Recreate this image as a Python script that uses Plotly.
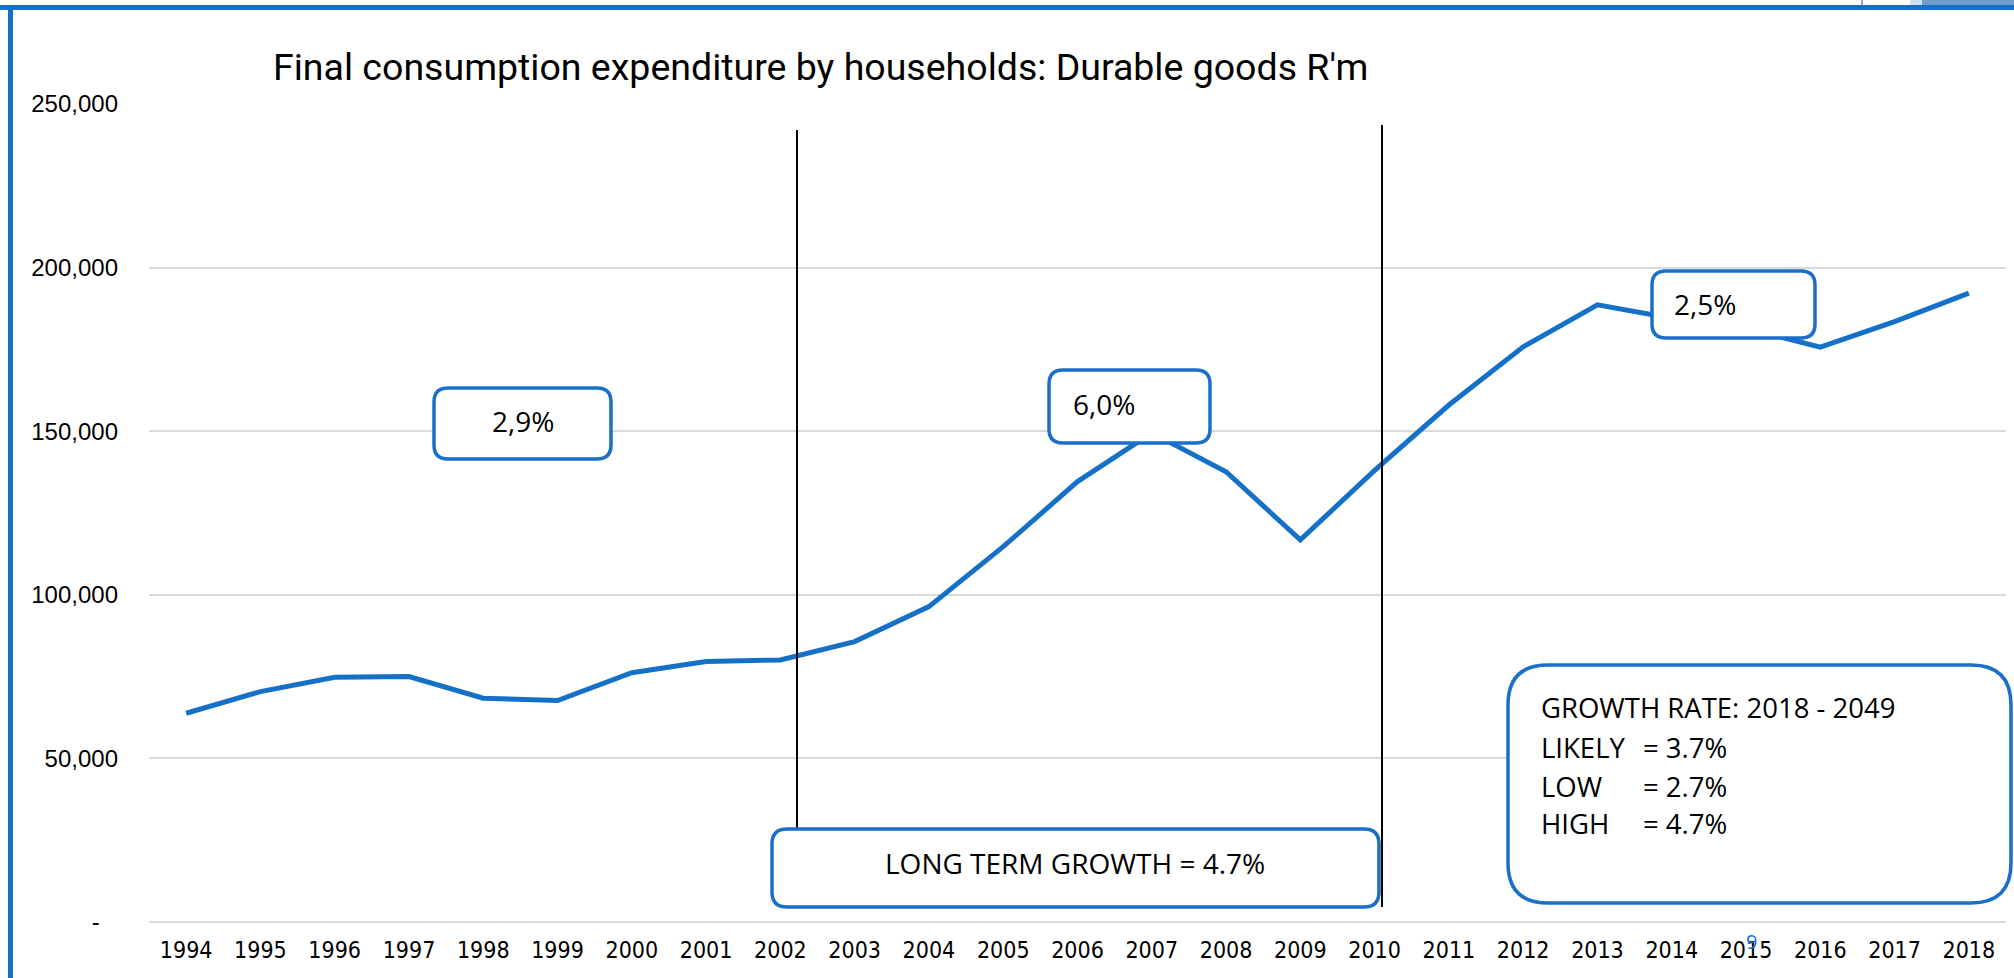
import plotly.graph_objects as go

# ---- data ----
years = [str(y) for y in range(1994, 2019)]
durable_goods_rm = [63800, 70400, 74800, 75000, 68400, 67700, 76200, 79600, 80100,
                    85700, 96400, 114700, 134600, 149500, 137600, 116800, 138000,
                    158000, 175800, 188600, 184500, 181500, 175700, 183500, 192200]
y_tick_vals = [0, 50000, 100000, 150000, 200000, 250000]
y_tick_text = ["-\u00a0\u00a0\u2009", "50,000", "100,000", "150,000", "200,000", "250,000"]

title_text = "Final consumption expenditure by households: Durable goods R'm"
period_labels = ["2,9%", "6,0%", "2,5%"]
long_term_text = "LONG TERM GROWTH = 4.7%"
growth_head = "GROWTH RATE: 2018 - 2049"
scenario_names = ["LIKELY", "LOW", "HIGH"]
scenario_rates = ["= 3.7%", "= 2.7%", "= 4.7%"]

# ---- layout geometry (pixels) ----
W, H = 2014, 978
L, R, T, B = 149, 2006, 104, 922
PW, PH = R - L, B - T

def px(x):
    return (x - L) / PW

def py(y):
    return (B - y) / PH

def rrect(x0, y0, x1, y1, r):
    rx, ry = r / PW, r / PH
    X0, X1 = px(x0), px(x1)
    Y0, Y1 = py(y0), py(y1)  # Y0 top (larger), Y1 bottom
    return (f"M {X0+rx},{Y0} L {X1-rx},{Y0} Q {X1},{Y0} {X1},{Y0-ry} "
            f"L {X1},{Y1+ry} Q {X1},{Y1} {X1-rx},{Y1} L {X0+rx},{Y1} "
            f"Q {X0},{Y1} {X0},{Y1+ry} L {X0},{Y0-ry} Q {X0},{Y0} {X0+rx},{Y0} Z")

BLUE = "#1570c8"
BOXBLUE = "#1a6fc9"
callout_font = dict(family="Open Sans, Liberation Sans, sans-serif", size=28, color="#000000")
growth_font = dict(family="Open Sans, Liberation Sans, sans-serif", size=27.5, color="#000000")

fig = go.Figure()
fig.add_trace(go.Scatter(x=years, y=durable_goods_rm, mode="lines",
                         line=dict(color=BLUE, width=5), hoverinfo="x+y",
                         showlegend=False))

shapes = []
# slide frame
shapes.append(dict(type="rect", xref="paper", yref="paper", x0=px(0), x1=px(W), y0=py(5), y1=py(10),
                   fillcolor=BLUE, line=dict(width=0), layer="above"))
shapes.append(dict(type="rect", xref="paper", yref="paper", x0=px(8), x1=px(13), y0=py(5), y1=py(H),
                   fillcolor=BLUE, line=dict(width=0), layer="above"))
shapes.append(dict(type="rect", xref="paper", yref="paper", x0=px(1910), x1=px(1922), y0=py(0), y1=py(5),
                   fillcolor="#cfe0f3", line=dict(width=0), layer="above"))
shapes.append(dict(type="rect", xref="paper", yref="paper", x0=px(1922), x1=px(W), y0=py(0), y1=py(5),
                   fillcolor="#6e9ccb", line=dict(width=0), layer="above"))
shapes.append(dict(type="line", xref="paper", yref="paper", x0=px(1862), x1=px(1862), y0=py(0), y1=py(5),
                   line=dict(color="#5b93cf", width=1.5), layer="above"))

# period divider lines
shapes.append(dict(type="line", xref="paper", yref="paper", x0=px(797), x1=px(797), y0=py(130), y1=py(905),
                   line=dict(color="#000000", width=2), layer="above"))
shapes.append(dict(type="line", xref="paper", yref="paper", x0=px(1382), x1=px(1382), y0=py(125), y1=py(907),
                   line=dict(color="#000000", width=2), layer="above"))

# callout boxes
boxes = [
    (434, 388, 611, 459, 14),
    (1049, 370, 1210, 443, 14),
    (1652, 271, 1815, 338, 14),
    (772, 829, 1379, 907, 15),
    (1508, 665, 2011, 903, 40),
]
for (x0, y0, x1, y1, r) in boxes:
    shapes.append(dict(type="path", xref="paper", yref="paper", path=rrect(x0, y0, x1, y1, r),
                       fillcolor="#ffffff", line=dict(color=BOXBLUE, width=3.5), layer="above"))

ann = []
ann.append(dict(text=title_text, xref="paper", yref="paper", x=px(271), y=py(67),
                xanchor="left", yanchor="middle", showarrow=False,
                font=dict(family="Roboto, sans-serif", size=37.5, color="#000000")))
ann.append(dict(text=period_labels[0], xref="paper", yref="paper", x=px(523), y=py(421),
                xanchor="center", yanchor="middle", showarrow=False, font=callout_font))
ann.append(dict(text=period_labels[1], xref="paper", yref="paper", x=px(1071), y=py(404),
                xanchor="left", yanchor="middle", showarrow=False, font=callout_font))
ann.append(dict(text=period_labels[2], xref="paper", yref="paper", x=px(1672), y=py(304),
                xanchor="left", yanchor="middle", showarrow=False, font=callout_font))
ann.append(dict(text=long_term_text, xref="paper", yref="paper", x=px(1075), y=py(863),
                xanchor="center", yanchor="middle", showarrow=False, font=callout_font))
ann.append(dict(text=growth_head, xref="paper", yref="paper", x=px(1539), y=py(707),
                xanchor="left", yanchor="middle", showarrow=False, font=growth_font))
for i, (nm, rt) in enumerate(zip(scenario_names, scenario_rates)):
    yy = [747, 786, 823][i]
    ann.append(dict(text=nm, xref="paper", yref="paper", x=px(1539), y=py(yy),
                    xanchor="left", yanchor="middle", showarrow=False, font=growth_font))
    ann.append(dict(text=rt, xref="paper", yref="paper", x=px(1641), y=py(yy),
                    xanchor="left", yanchor="middle", showarrow=False, font=growth_font))
ann.append(dict(text="9", xref="paper", yref="paper", x=px(1751), y=py(941),
                xanchor="center", yanchor="middle", showarrow=False,
                font=dict(family="Open Sans, sans-serif", size=20, color=BLUE)))

fig.update_layout(
    width=W, height=H,
    margin=dict(l=L, r=W - R, t=T, b=H - B, pad=0),
    paper_bgcolor="#ffffff", plot_bgcolor="#ffffff",
    shapes=shapes, annotations=ann,
    showlegend=False,
    xaxis=dict(type="category", range=[-0.5, 24.5], showgrid=False, showline=False,
               zeroline=False, ticks="", ticklabelstandoff=12,
               tickfont=dict(family="Liberation Sans Narrow, DejaVu Sans Condensed, Roboto Condensed, Roboto, sans-serif",
                             size=23, color="#000000")),
    yaxis=dict(range=[0, 250000], tickvals=y_tick_vals, ticktext=y_tick_text,
               showgrid=True, gridcolor="#d9d9d9", gridwidth=2,
               zeroline=True, zerolinecolor="#d9d9d9", zerolinewidth=2,
               showline=False, ticks="", ticklabelstandoff=30,
               tickfont=dict(family="Liberation Sans, Arial, sans-serif", size=24, color="#000000")),
)

fig.write_html("out.html")
